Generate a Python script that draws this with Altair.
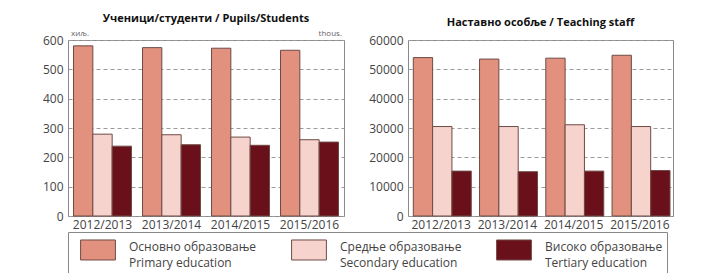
import altair as alt
import pandas as pd

years = ["2012/2013", "2013/2014", "2014/2015", "2015/2016"]
levels = [
    "Основно образовање\nPrimary education",
    "Средње образовање\nSecondary education",
    "Високо образовање\nTertiary education",
]
colors = ["#e2917e", "#f6d4cd", "#6a101a"]

# Pupils/students (thousands)
pupils_primary = [580, 574, 572, 565]
pupils_secondary = [279, 277, 269, 260]
pupils_tertiary = [238, 243, 241, 252]

# Teaching staff
staff_primary = [54000, 53500, 53800, 54800]
staff_secondary = [30500, 30500, 31100, 30500]
staff_tertiary = [15300, 15100, 15300, 15500]


def make_df(p, s, t):
    rows = []
    for i, y in enumerate(years):
        for lev, vals in zip(levels, (p, s, t)):
            rows.append({"year": y, "level": lev, "value": vals[i]})
    return pd.DataFrame(rows)


pupils_df = make_df(pupils_primary, pupils_secondary, pupils_tertiary)
staff_df = make_df(staff_primary, staff_secondary, staff_tertiary)

FONT = "Open Sans"

legend = alt.Legend(
    title=" ",
    titleOrient="left",
    titlePadding=11,
    orient="none",
    legendX=0,
    legendY=192,
    direction="horizontal",
    columns=3,
    columnPadding=32,
    symbolType="M-1.2,-0.76H1.2V0.62H-1.2Z",
    symbolSize=841,
    symbolStrokeColor="#6e4a46",
    symbolStrokeWidth=1,
    symbolOpacity=1,
    labelOffset=16,
    labelBaseline="alphabetic",
    labelFont=FONT,
    labelFontSize=12,
    labelColor="#444444",
    labelExpr="split(datum.label, '\\n')",
    labelLimit=300,
    strokeColor="#888888",
    padding=4,
)


def panel(df, title, ymax, tick_vals, left_unit, right_unit, width):
    bars = alt.Chart(df).mark_bar(stroke="#6e4a46", strokeWidth=1).encode(
        x=alt.X(
            "year:N",
            sort=years,
            title=None,
            scale=alt.Scale(paddingInner=0.16, paddingOuter=0.08),
            axis=alt.Axis(labelAngle=0, ticks=False, domain=False, grid=False,
                          labelPadding=3),
        ),
        xOffset=alt.XOffset("level:N", sort=levels),
        y=alt.Y(
            "value:Q",
            title=None,
            scale=alt.Scale(domain=[0, ymax], nice=False),
            axis=alt.Axis(values=tick_vals, format="d", grid=True, ticks=False,
                          domain=False, gridDash=[4, 3], gridColor="#9a9a9a",
                          labelPadding=5),
        ),
        color=alt.Color("level:N", sort=levels,
                        scale=alt.Scale(domain=levels, range=colors),
                        legend=legend),
    )
    units = []
    if left_unit:
        units.append(
            alt.Chart(pd.DataFrame({"t": [left_unit]})).mark_text(
                align="left", baseline="bottom", font=FONT, fontSize=8, color="#666666"
            ).encode(x=alt.value(3), y=alt.value(-2), text="t:N")
        )
    if right_unit:
        units.append(
            alt.Chart(pd.DataFrame({"t": [right_unit]})).mark_text(
                align="right", baseline="bottom", font=FONT, fontSize=8, color="#666666"
            ).encode(x=alt.value(width - 2), y=alt.value(-2), text="t:N")
        )
    return alt.layer(bars, *units).properties(
        width=width, height=176,
        title=alt.TitleParams(title, anchor="middle", fontSize=11, font=FONT,
                              fontWeight="bold", color="#111111", offset=6),
    )


left = panel(pupils_df, "Ученици/студенти / Pupils/Students", 600,
             [0, 100, 200, 300, 400, 500, 600], "хиљ.", "thous.", 276)
right = panel(staff_df, "Наставно особље / Teaching staff", 60000,
              [0, 10000, 20000, 30000, 40000, 50000, 60000], None, None, 265)

chart = alt.hconcat(left, right, spacing=23).resolve_scale(
    y="independent", color="shared"
).properties(
    padding={"left": 33, "top": 4, "right": 0, "bottom": 0}
).configure(
    style={"guide-label": {"lineHeight": 16}},
    view={"stroke": "#8a8a8a", "strokeWidth": 1},
    axis={"labelFont": FONT, "labelFontSize": 12, "labelColor": "#444444"},
)

chart.save("out.html", embed_options={"renderer": "svg", "actions": False})
